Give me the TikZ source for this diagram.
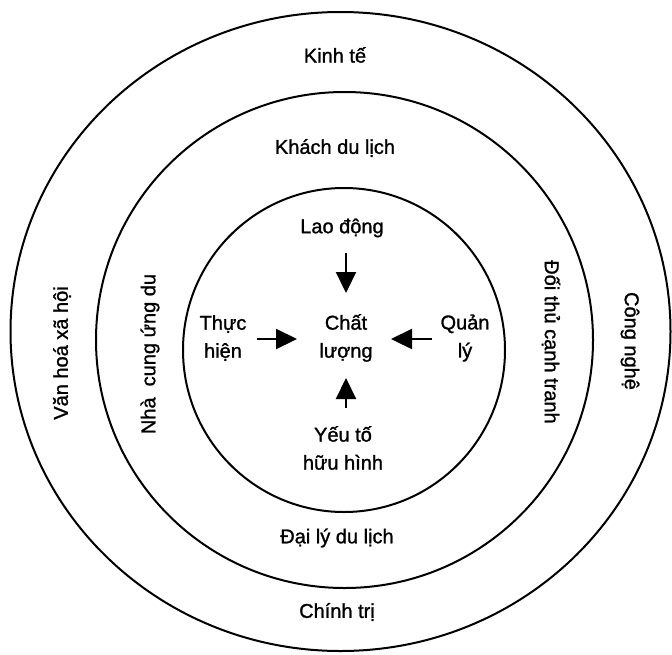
\documentclass[tikz,border=0pt]{standalone}
\usepackage{fontspec}
\setmainfont{Liberation Sans}
\newfontfamily\lblfont{Liberation Sans}[UprightFeatures={FakeBold=1.2}]
\usetikzlibrary{arrows.meta}
\begin{document}
\begin{tikzpicture}[x=1pt,y=-1pt,
  ring/.style={draw=black,line width=2pt},
  lbl/.style={font=\lblfont\fontsize{20}{28}\selectfont,align=center,inner sep=0pt},
  arr/.style={line width=2.2pt,-{Triangle[length=21pt,width=20pt]}}]
\useasboundingbox (0,0) rectangle (672,654);
% rings
\draw[ring] (340.5,331.5) ellipse [x radius=330pt, y radius=319.5pt];
\draw[ring] (344.5,340) ellipse [x radius=248.5pt, y radius=248pt];
\draw[ring] (344,350) ellipse [x radius=161pt, y radius=162pt];
% outer ring labels
\node[lbl] (kinh) at (335,55) {Kinh tế};
\node[lbl] (chinh) at (337,612) {Chính trị};
\node[lbl,rotate=90] (vanhoa) at (62,353) {Văn hoá xã hội};
\node[lbl,rotate=-90] (congnghe) at (630,341) {Công nghệ};
% middle ring labels
\node[lbl] (khach) at (335,148) {Khách du lịch};
\node[lbl] (daily) at (337,538) {Đại lý du lịch};
\node[lbl,rotate=90] (nha) at (150,354) {Nhà\ \ cung ứng du};
\node[lbl,rotate=-90] (doithu) at (551,342) {Đối thủ cạnh tranh};
% inner labels
\node[lbl] (lao) at (342,228) {Lao động};
\node[lbl] (chat) at (346,338) {Chất\\lượng};
\node[lbl] (thuc) at (223,338) {Thực\\hiện};
\node[lbl] (quan) at (465,338) {Quản\\lý};
\node[lbl] (yeu) at (343,448) {Yếu tố\\hữu hình};
% arrows
\coordinate (d1) at (346,253);
\coordinate (d2) at (346,293);
\coordinate (r1) at (257,339);
\coordinate (r2) at (297,339);
\coordinate (l1) at (432,339);
\coordinate (l2) at (391,339);
\coordinate (u1) at (346,408);
\coordinate (u2) at (346,378);
\draw[arr] (d1) -- (d2);
\draw[arr] (r1) -- (r2);
\draw[arr] (l1) -- (l2);
\draw[arr] (u1) -- (u2);
\end{tikzpicture}
\end{document}
